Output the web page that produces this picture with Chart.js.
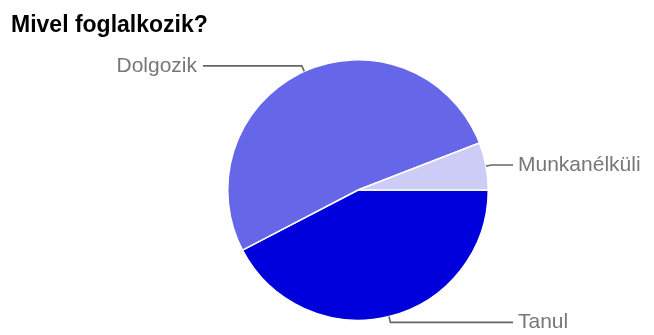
<!DOCTYPE html>
<html>
<head>
<meta charset="utf-8">
<script src="https://cdn.jsdelivr.net/npm/chart.js@4"></script>
<style>
  html, body { margin: 0; padding: 0; background: #fff; }
  #wrap { width: 654px; height: 335px; position: relative; }
</style>
</head>
<body>
<div id="wrap"><canvas id="pie"></canvas></div>
<script>
// Válaszok: hányan jelölték az egyes lehetőségeket
const labels = ["Tanul", "Dolgozik", "Munkanélküli"];
const counts = [36, 44, 5];
const colors = ["#0000dd", "#6666e8", "#ccccf6"];
const title = "Mivel foglalkozik?";

// címkék vezetővonallal, a szeletek középszögéből számolva
const leaderLabels = {
  id: "leaderLabels",
  afterDraw(chart) {
    const ctx = chart.ctx;
    const meta = chart.getDatasetMeta(0);
    ctx.save();
    ctx.fillStyle = "#000";
    ctx.font = "bold 23px 'Liberation Sans', Arial, sans-serif";
    ctx.textBaseline = "alphabetic";
    ctx.textAlign = "left";
    ctx.fillText(title, 11, 32);

    ctx.font = "21px 'Liberation Sans', Arial, sans-serif";
    ctx.textBaseline = "middle";
    meta.data.forEach((arc, i) => {
      const p = arc.getProps(["x", "y", "startAngle", "endAngle", "outerRadius"], true);
      const mid = (p.startAngle + p.endAngle) / 2;
      const ax = p.x + Math.cos(mid) * p.outerRadius;
      const ay = p.y + Math.sin(mid) * p.outerRadius;
      const ex = p.x + Math.cos(mid) * (p.outerRadius + 6);
      const ey = p.y + Math.sin(mid) * (p.outerRadius + 6);
      const right = Math.cos(mid) >= 0;
      const lx = right ? p.x + 155 : p.x - 155;
      ctx.strokeStyle = "#666";
      ctx.lineWidth = 1.6;
      ctx.beginPath();
      ctx.moveTo(ax, ay);
      ctx.lineTo(ex, ey);
      ctx.lineTo(lx, ey);
      ctx.stroke();
      ctx.fillStyle = "#777";
      ctx.textAlign = right ? "left" : "right";
      ctx.fillText(labels[i], right ? lx + 5 : lx - 6, ey);
    });
    ctx.restore();
  }
};

new Chart(document.getElementById("pie").getContext("2d"), {
  type: "pie",
  data: {
    labels: labels,
    datasets: [{
      data: counts,
      backgroundColor: colors,
      borderColor: "#ffffff",
      borderWidth: 1.5,
    }],
  },
  options: {
    responsive: true,
    maintainAspectRatio: false,
    animation: false,
    rotation: 90,
    layout: {
      padding: { top: 59, bottom: 14, left: 227, right: 165 },
    },
    plugins: {
      legend: { display: false },
      tooltip: { enabled: false },
    },
  },
  plugins: [leaderLabels],
});
</script>
</body>
</html>
